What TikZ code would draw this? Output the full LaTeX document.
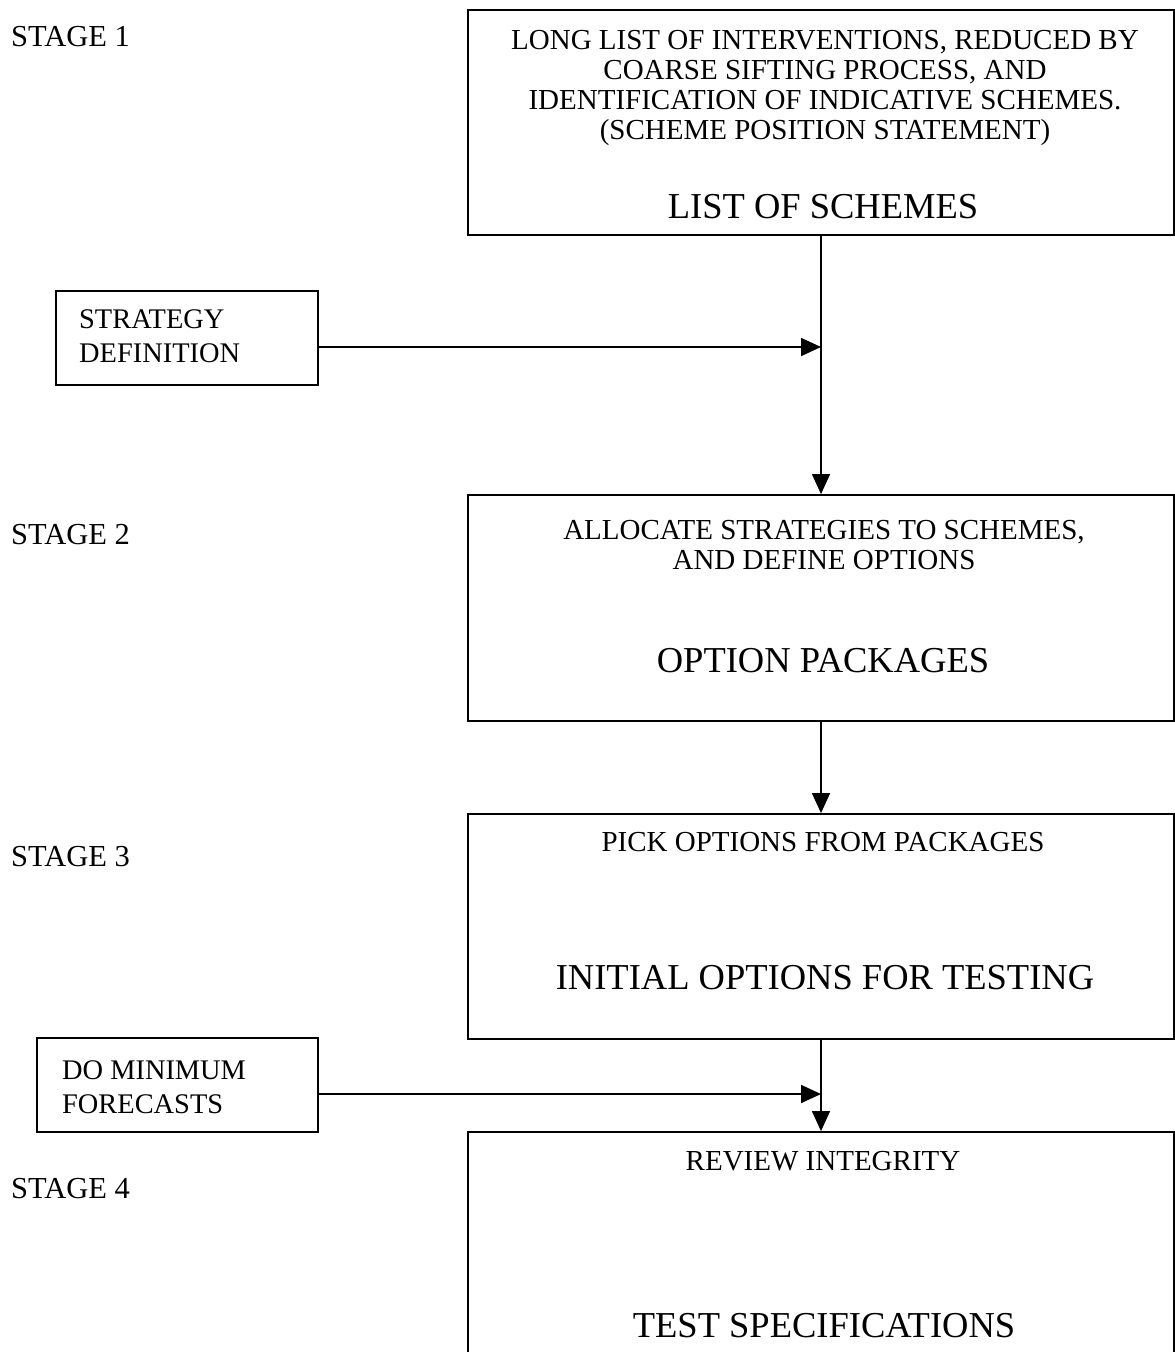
\documentclass[tikz,border=0pt]{standalone}
\usepackage{fontspec}
\setmainfont{Liberation Serif}
\usetikzlibrary{arrows.meta}
\begin{document}
\begin{tikzpicture}[x=1pt,y=-1pt,
  box/.style={draw,line width=1.8pt,rectangle,inner sep=0pt},
  small/.style={font=\fontsize{29}{30}\selectfont,align=center,inner sep=0pt},
  big/.style={font=\fontsize{36.5}{40}\selectfont,inner sep=0pt},
  lefttxt/.style={font=\fontsize{28.4}{34}\selectfont,align=left,inner sep=0pt,anchor=west},
  stagetxt/.style={font=\fontsize{30.5}{34}\selectfont,inner sep=0pt,anchor=west},
  tip/.style={-{Triangle[length=20pt,width=18pt]}},
  varr/.style={tip,line width=1.3pt},
  harr/.style={tip,line width=1.7pt}]
\useasboundingbox (0,0) rectangle (1175,1352);
% right-hand boxes
\node[box,minimum width=706pt,minimum height=225pt] (b1) at (821,122.5) {};
\node[box,minimum width=706pt,minimum height=226pt] (b2) at (821,608) {};
\node[box,minimum width=706pt,minimum height=225pt] (b3) at (821,926.5) {};
\node[box,minimum width=706pt,minimum height=280pt] (b4) at (821,1272) {};
% left boxes
\node[box,minimum width=262pt,minimum height=94pt] (s) at (187,338) {};
\node[box,minimum width=281pt,minimum height=94pt] (d) at (177.5,1085) {};
% texts in boxes
\node[small] (t1) at (825,88) {LONG LIST OF INTERVENTIONS, REDUCED BY\\COARSE SIFTING PROCESS, AND\\IDENTIFICATION OF INDICATIVE SCHEMES.\\(SCHEME POSITION STATEMENT)};
\node[big] (t1b) at (823,207) {LIST OF SCHEMES};
\node[small] (t2) at (824,545) {ALLOCATE STRATEGIES TO SCHEMES,\\AND DEFINE OPTIONS};
\node[big] (t2b) at (823,661) {OPTION PACKAGES};
\node[small] (t3) at (823,842) {PICK OPTIONS FROM PACKAGES};
\node[big] (t3b) at (825,978) {INITIAL OPTIONS FOR TESTING};
\node[small] (t4) at (823,1161) {REVIEW INTEGRITY};
\node[big] (t4b) at (824,1326) {TEST SPECIFICATIONS};
\node[lefttxt] (ts) at (79,336) {STRATEGY\\DEFINITION};
\node[lefttxt] (td) at (62,1087) {DO MINIMUM\\FORECASTS};
% stage labels
\node[stagetxt] (st1) at (11,37) {STAGE 1};
\node[stagetxt] (st2) at (11,535) {STAGE 2};
\node[stagetxt] (st3) at (11,857) {STAGE 3};
\node[stagetxt] (st4) at (11,1189) {STAGE 4};
% connectors
\coordinate (j1) at (821,347);
\coordinate (j2) at (821,1094);
\draw[varr] (b1.south) -- (b2.north);
\draw[harr] (s.east |- j1) -- (j1);
\draw[varr] (b2.south) -- (b3.north);
\draw[varr] (b3.south) -- (b4.north);
\draw[harr] (d.east |- j2) -- (j2);
\end{tikzpicture}
\end{document}
